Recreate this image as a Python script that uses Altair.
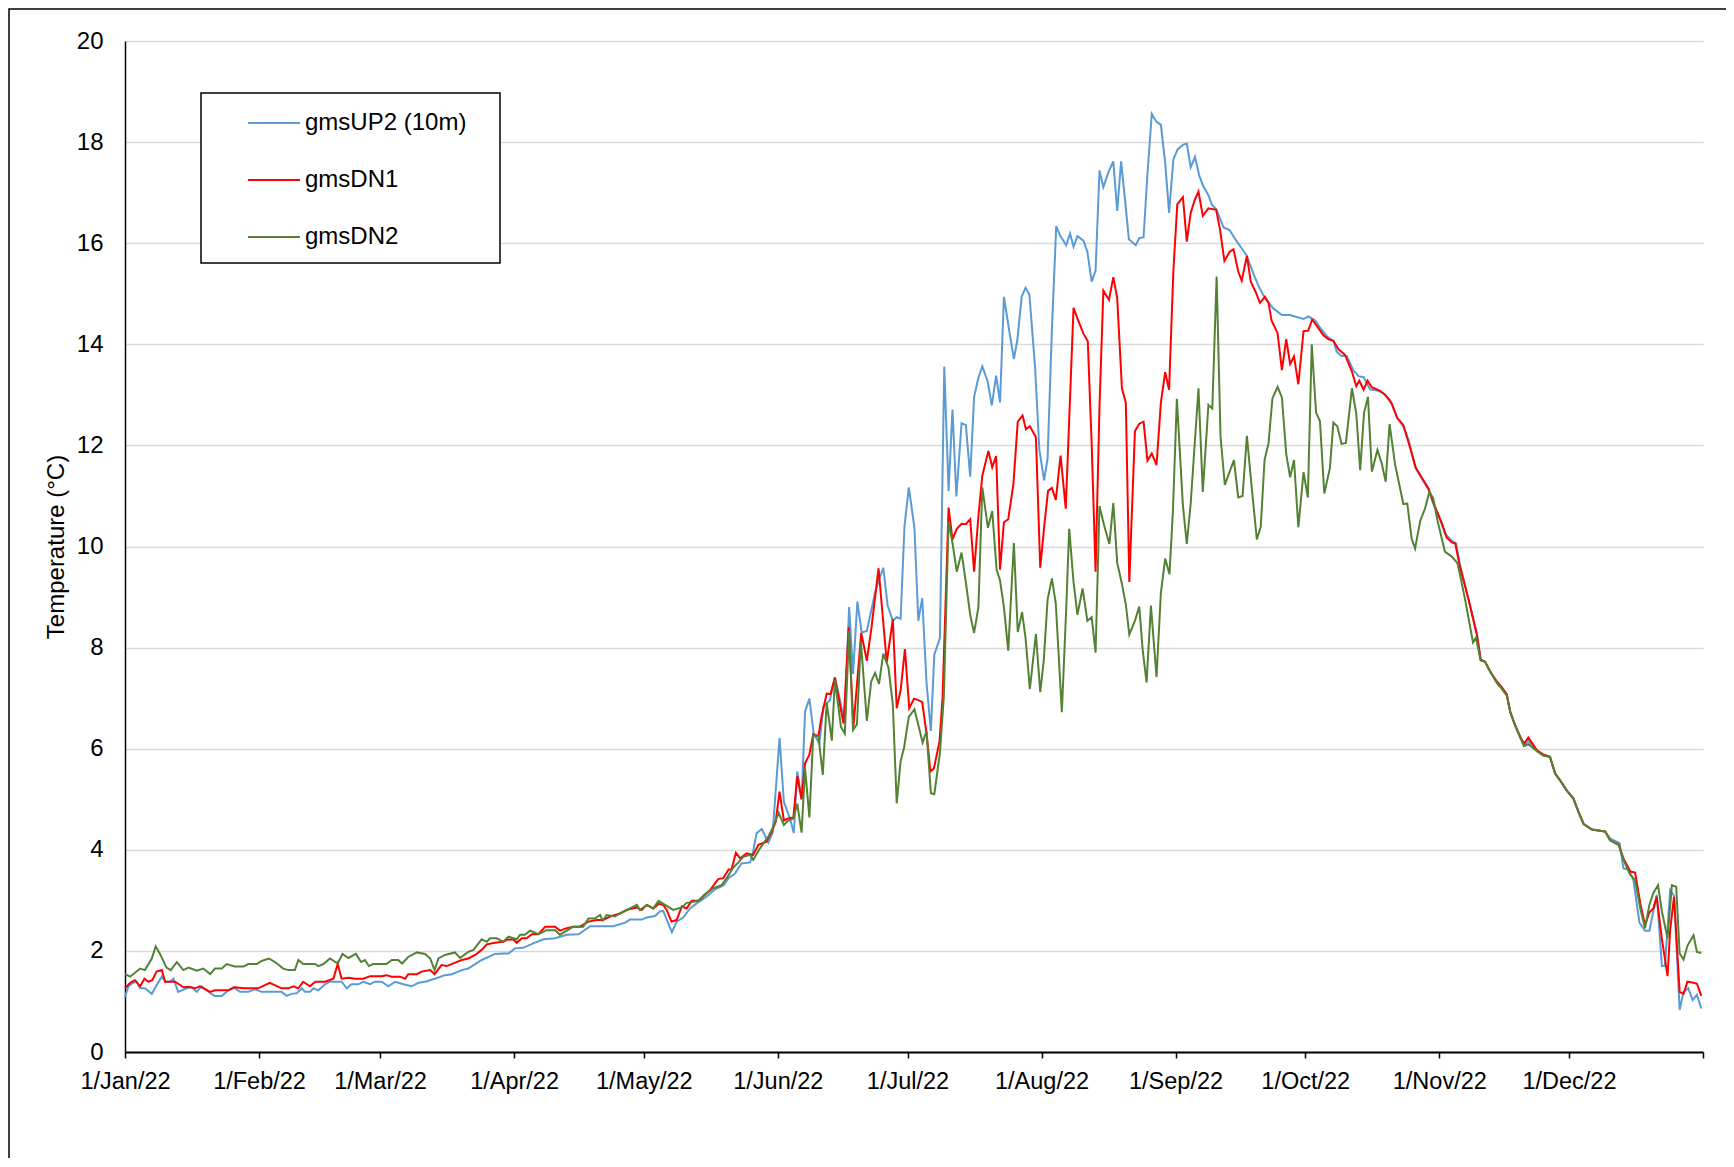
import altair as alt
import pandas as pd

# ---- data (day offset from 1 Jan 2022, temperature in degC) ----
SERIES = ["gmsUP2 (10m)", "gmsDN1", "gmsDN2"]
COLORS = ["#5B9BD5", "#FF0000", "#548235"]

up2_points = [
    (0, 1.09), (0.8, 1.30), (1.9, 1.37), (2.7, 1.39), (3.5, 1.26), (4.6, 1.26), (6.2, 1.15), (7.3, 1.32),
    (8.5, 1.49), (9.3, 1.39), (10.4, 1.39), (11.2, 1.45), (12.3, 1.19), (14.3, 1.26), (15.4, 1.28), (16.6, 1.19),
    (17.7, 1.30), (20, 1.15), (20.8, 1.11), (22.4, 1.11), (23.9, 1.22), (25.1, 1.28), (26.6, 1.19), (28.5, 1.19),
    (30.1, 1.24), (31.6, 1.19), (33.9, 1.19), (36.2, 1.19), (37.4, 1.11), (38.5, 1.15), (39.7, 1.16), (40.9, 1.26),
    (41.6, 1.19), (42.8, 1.19), (43.6, 1.26), (44.7, 1.22), (46.3, 1.34), (47.4, 1.39), (50.1, 1.39), (51.3, 1.26),
    (52.4, 1.34), (54, 1.34), (55.1, 1.39), (56.7, 1.34), (57.8, 1.39), (59.4, 1.39), (60.9, 1.30), (62.5, 1.39),
    (64.4, 1.34), (66.3, 1.30), (67.9, 1.37), (69.4, 1.39), (71.7, 1.45), (74, 1.52), (75.6, 1.54), (77.9, 1.62),
    (79.4, 1.65), (81, 1.74), (82.5, 1.82), (85.6, 1.94), (87.5, 1.95), (88.7, 1.95), (90.2, 2.05), (92.1, 2.06),
    (94.4, 2.15), (96.8, 2.23), (99.5, 2.25), (102.2, 2.32), (104.9, 2.33), (107.6, 2.49), (113, 2.49), (115.7, 2.56),
    (116.8, 2.62), (119.5, 2.62), (120.7, 2.66), (122.6, 2.69), (123.7, 2.78), (124.5, 2.79), (125.5, 2.58),
    (126.5, 2.37), (127.6, 2.58), (129.1, 2.66), (130.7, 2.84), (132.2, 2.94), (134.5, 3.07), (136.5, 3.22),
    (138.5, 3.30), (139.6, 3.44), (141.1, 3.53), (142.6, 3.73), (144.6, 3.75), (145.2, 3.93), (146.1, 4.33),
    (147.3, 4.41), (148.8, 4.14), (149.8, 4.33), (151.4, 6.21), (152.4, 4.95), (153.8, 4.62), (154.7, 4.33),
    (155.5, 5.55), (156.5, 5.00), (157.3, 6.73), (158.3, 6.99), (159.3, 6.30), (160.6, 6.10), (161.6, 6.85),
    (163.0, 6.95), (164.2, 7.41), (165.4, 6.96), (166.4, 6.50), (167.5, 8.80), (168.4, 7.48), (169.4, 8.91),
    (170.4, 8.30), (171.6, 8.33), (173.5, 9.09), (174.3, 9.32), (175.4, 9.58), (176.4, 8.83), (177.6, 8.53),
    (178.5, 8.60), (179.4, 8.57), (180.3, 10.40), (181.3, 11.17), (182.6, 10.37), (183.5, 8.53), (184.4, 8.98),
    (185.4, 7.30), (186.4, 6.35), (187.2, 7.86), (188.5, 8.19), (189.5, 13.56), (190.5, 11.10), (191.4, 12.71),
    (192.3, 10.99), (193.5, 12.44), (194.5, 12.40), (195.5, 11.38), (196.4, 12.96), (197.4, 13.34), (198.3, 13.56),
    (199.5, 13.28), (200.5, 12.79), (201.5, 13.38), (202.4, 12.85), (203.3, 14.94), (204.5, 14.28), (205.6, 13.71),
    (206.4, 14.08), (207.4, 14.94), (208.3, 15.12), (209.2, 14.98), (210.5, 13.55), (211.5, 11.91), (212.6, 11.31),
    (213.4, 11.75), (214.4, 14.30), (215.4, 16.34), (216.3, 16.15), (217.7, 15.96), (218.6, 16.19), (219.4, 15.93),
    (220.3, 16.14), (221.7, 16.05), (222.6, 15.83), (223.6, 15.24), (224.5, 15.46), (225.4, 17.44), (226.3, 17.11),
    (227.5, 17.41), (228.6, 17.62), (229.5, 16.64), (230.4, 17.62), (231.3, 16.87), (232.2, 16.08), (233.8, 15.96),
    (234.6, 16.10), (235.6, 16.12), (236.5, 17.37), (237.5, 18.56), (238.5, 18.41), (239.6, 18.34), (240.6, 17.59),
    (241.5, 16.60), (242.5, 17.66), (243.5, 17.86), (244.8, 17.95), (245.6, 17.97), (246.5, 17.50), (247.5, 17.71),
    (248.5, 17.33), (249.4, 17.13), (250.6, 16.95), (251.4, 16.76), (252.5, 16.66), (254.1, 16.31), (255.5, 16.26),
    (256.8, 16.08), (258.3, 15.90), (259.5, 15.75), (261, 15.40), (262.2, 15.15), (263.7, 14.91), (265.6, 14.71),
    (267.6, 14.58), (269.5, 14.58), (270.6, 14.55), (272.6, 14.50), (273.7, 14.55), (275.3, 14.47), (276.4, 14.33),
    (278, 14.16), (279.5, 14.07), (280.3, 13.85), (281.4, 13.77), (282.6, 13.77), (284.1, 13.49), (285.3, 13.37),
    (286.5, 13.35), (288, 13.11), (289.9, 13.08), (291.1, 13.03), (292.6, 12.90), (294.2, 12.55), (295.7, 12.37),
    (296.9, 12.11), (298.4, 11.58), (299.9, 11.35), (301.5, 11.13), (302.6, 10.85), (304.2, 10.53), (305.3, 10.26),
    (306.9, 10.11), (307.9, 10.06), (308.7, 9.67), (310.8, 8.94), (312.7, 8.28), (313.6, 7.75), (314.6, 7.72),
    (315.8, 7.52), (317.3, 7.33), (318.5, 7.21), (319.6, 7.08), (320.4, 6.73), (321.5, 6.47), (322.7, 6.24),
    (323.6, 6.07), (324.6, 6.15), (326.6, 5.97), (328.1, 5.88), (329.6, 5.84), (330.8, 5.51), (331.9, 5.38),
    (333.5, 5.17), (335, 5.02), (336.2, 4.75), (337.4, 4.51), (339.3, 4.40), (340.8, 4.38), (342.4, 4.36),
    (343.5, 4.22), (344.3, 4.19), (345.7, 4.13), (346.6, 3.63), (347.8, 3.61), (348.9, 3.40), (350.3, 2.56),
    (351.6, 2.40), (352.6, 2.40), (353.5, 2.78), (354.3, 3.11), (355.5, 1.70), (356.2, 1.70), (357.4, 3.20),
    (358.3, 3.09), (359.6, 0.83), (360.5, 1.19), (361.6, 1.26), (362.6, 1.03), (363.6, 1.13), (364.6, 0.86),
]

dn1_points = [
    (0, 1.26), (1.2, 1.37), (2.3, 1.42), (3.5, 1.30), (4.5, 1.45), (5.4, 1.39), (6.3, 1.42), (7.3, 1.59),
    (8.5, 1.62), (9.3, 1.39), (11.6, 1.39), (13.5, 1.28), (14.7, 1.29), (16.2, 1.26), (17.3, 1.30), (19.7, 1.19),
    (20.8, 1.22), (23.9, 1.22), (25.4, 1.28), (27.4, 1.26), (30.8, 1.26), (33.5, 1.37), (36.2, 1.26), (37.8, 1.26),
    (39, 1.30), (40.1, 1.26), (41.2, 1.39), (42.8, 1.30), (44, 1.39), (46.3, 1.39), (48.2, 1.45), (49.2, 1.74),
    (50.1, 1.45), (51.7, 1.47), (53.2, 1.45), (55.1, 1.45), (56.7, 1.50), (59.4, 1.50), (60.5, 1.52), (61.7, 1.49),
    (63.6, 1.49), (64.8, 1.45), (65.5, 1.54), (67.5, 1.54), (68.6, 1.59), (70.6, 1.62), (71.6, 1.54), (73.2, 1.72),
    (74.4, 1.70), (77.9, 1.82), (79.4, 1.85), (81, 1.92), (82.5, 2.02), (83.7, 2.13), (85.6, 2.16), (87.5, 2.18),
    (88.3, 2.22), (89.8, 2.23), (90.6, 2.16), (91.8, 2.25), (92.9, 2.25), (94.1, 2.33), (95.6, 2.33), (97.2, 2.48),
    (99.5, 2.48), (100.6, 2.40), (102.2, 2.45), (103.7, 2.48), (105.2, 2.48), (107.2, 2.58), (109.1, 2.61),
    (110.6, 2.61), (112.2, 2.68), (114.5, 2.74), (116.4, 2.82), (118.4, 2.86), (119.5, 2.81), (120.7, 2.91),
    (122.2, 2.84), (123.4, 2.93), (124.5, 2.91), (125.3, 2.81), (126.4, 2.58), (127.6, 2.61), (128.8, 2.88),
    (129.9, 2.84), (131.1, 2.99), (132.6, 2.99), (133.8, 3.09), (135.3, 3.20), (137.2, 3.42), (138.4, 3.44),
    (139.6, 3.61), (140.3, 3.61), (141.3, 3.94), (142.3, 3.83), (143.8, 3.93), (145.3, 3.90), (146.5, 4.10),
    (148.4, 4.16), (149.6, 4.36), (150.5, 4.55), (151.4, 5.15), (152.4, 4.58), (153.4, 4.62), (154.6, 4.64),
    (155.5, 5.46), (156.5, 5.00), (157.3, 5.71), (158.3, 5.88), (159.2, 6.29), (160.4, 6.25), (161.1, 6.63),
    (162.3, 7.09), (163.2, 7.08), (164.2, 7.41), (165.3, 6.90), (166.2, 6.50), (167.4, 8.40), (168.5, 6.44),
    (170.3, 8.29), (171.6, 7.74), (172.7, 8.42), (174.3, 9.57), (176.2, 7.71), (177.6, 8.56), (178.5, 6.80),
    (179.4, 7.15), (180.4, 7.97), (181.4, 6.80), (182.5, 6.99), (183.5, 6.96), (184.4, 6.92), (185.4, 6.30),
    (186.3, 5.55), (187.1, 5.61), (188.4, 6.14), (189.1, 7.00), (190.5, 10.77), (191.4, 10.14), (192.4, 10.35),
    (193.5, 10.45), (194.5, 10.44), (195.5, 10.54), (196.4, 9.50), (197.4, 10.60), (198.3, 11.40), (199.7, 11.89),
    (200.6, 11.57), (201.5, 11.79), (202.4, 9.54), (203.3, 10.48), (204.3, 10.54), (205.5, 11.24), (206.5, 12.47),
    (207.6, 12.59), (208.4, 12.32), (209.3, 12.38), (210.7, 12.16), (211.7, 9.58), (212.6, 10.38), (213.5, 11.10),
    (214.4, 11.16), (215.3, 10.92), (216.4, 11.80), (217.6, 10.75), (219.4, 14.72), (220.5, 14.47), (221.7, 14.21),
    (222.7, 14.06), (223.6, 12.02), (224.5, 9.50), (225.4, 12.75), (226.3, 15.06), (227.6, 14.88), (228.6, 15.33),
    (229.5, 14.92), (230.6, 13.13), (231.5, 12.84), (232.3, 9.30), (233.6, 12.28), (234.6, 12.43), (235.6, 12.47),
    (236.5, 11.70), (237.5, 11.84), (238.6, 11.61), (239.6, 12.84), (240.6, 13.45), (241.5, 13.10), (242.5, 15.46),
    (243.4, 16.77), (244.7, 16.91), (245.6, 16.03), (246.5, 16.60), (247.5, 16.87), (248.3, 17.02), (249.3, 16.54),
    (250.6, 16.69), (252.4, 16.66), (253.3, 16.26), (254.3, 15.65), (255.5, 15.83), (256.4, 15.88), (257.5, 15.44),
    (258.3, 15.26), (259.5, 15.75), (260.4, 15.24), (261.6, 15.02), (262.5, 14.82), (263.7, 14.94), (264.5, 14.82),
    (265.2, 14.47), (266.6, 14.22), (267.6, 13.49), (268.6, 14.10), (269.5, 13.61), (270.4, 13.76), (271.4, 13.21),
    (272.6, 14.26), (273.7, 14.27), (274.6, 14.49), (275.7, 14.36), (277.2, 14.18), (278.4, 14.10), (279.5, 14.07),
    (280.7, 13.90), (282.2, 13.79), (283.8, 13.46), (284.8, 13.17), (285.5, 13.28), (286.5, 13.10), (287.4, 13.28),
    (288.4, 13.15), (290.3, 13.08), (291.5, 13.00), (293, 12.83), (294.3, 12.54), (295.7, 12.40), (297.2, 11.97),
    (298.6, 11.55), (299.9, 11.37), (301.5, 11.15), (303, 10.79), (304.6, 10.46), (305.7, 10.18), (306.9, 10.08),
    (307.7, 10.06), (308.7, 9.63), (310.8, 8.94), (312.7, 8.25), (313.6, 7.75), (314.6, 7.72), (315.8, 7.52),
    (317.3, 7.33), (318.5, 7.21), (319.6, 7.08), (320.4, 6.73), (321.5, 6.47), (322.7, 6.24), (323.6, 6.10),
    (324.6, 6.22), (326.6, 5.97), (328.1, 5.88), (329.6, 5.84), (330.8, 5.51), (331.9, 5.38), (333.5, 5.17),
    (335, 5.02), (336.2, 4.75), (337.4, 4.51), (339.3, 4.40), (340.8, 4.38), (342.4, 4.36), (343.5, 4.19),
    (345.5, 4.10), (346.6, 3.83), (348.2, 3.57), (349.3, 3.55), (350.5, 2.94), (351.6, 2.51), (352.6, 2.76),
    (353.5, 2.84), (354.3, 3.07), (355.5, 2.23), (356.8, 1.50), (357.4, 2.41), (358.3, 3.07), (359.6, 1.19),
    (360.5, 1.15), (361.4, 1.39), (362.8, 1.37), (363.6, 1.35), (364.6, 1.11),
]

dn2_points = [
    (0, 1.54), (1.2, 1.49), (3.5, 1.65), (4.6, 1.62), (6.2, 1.85), (7.1, 2.09), (8.1, 1.94), (9.6, 1.67),
    (10.6, 1.62), (12, 1.78), (13.5, 1.62), (14.7, 1.67), (16.6, 1.61), (18.1, 1.65), (19.7, 1.54), (20.8, 1.65),
    (22.4, 1.65), (23.5, 1.74), (25.4, 1.69), (27.4, 1.69), (28.5, 1.74), (30.5, 1.74), (31.6, 1.80), (33.3, 1.85),
    (34.7, 1.78), (36.6, 1.65), (37.8, 1.62), (39.3, 1.62), (40.1, 1.82), (41.2, 1.74), (44, 1.74), (44.7, 1.70),
    (45.9, 1.74), (47.4, 1.85), (49.2, 1.75), (50.3, 1.94), (51.7, 1.86), (53.4, 1.94), (54.6, 1.78), (55.5, 1.82),
    (56.4, 1.70), (57.4, 1.74), (60.5, 1.74), (61.7, 1.82), (63.2, 1.82), (64.1, 1.75), (65.5, 1.88), (67.5, 1.97),
    (69.4, 1.94), (70.6, 1.85), (71.6, 1.62), (72.5, 1.85), (74, 1.92), (76.3, 1.97), (77.5, 1.86), (79.4, 1.98),
    (80.6, 2.02), (82.5, 2.23), (83.7, 2.18), (84.4, 2.25), (86, 2.25), (87.5, 2.18), (88.7, 2.28), (90.6, 2.23),
    (91.4, 2.32), (92.5, 2.32), (93.7, 2.40), (95.6, 2.33), (97.5, 2.41), (99.5, 2.41), (100.6, 2.32), (102.2, 2.40),
    (103.7, 2.48), (106, 2.48), (107.2, 2.64), (108.7, 2.64), (109.9, 2.71), (110.5, 2.60), (111.4, 2.71),
    (113.3, 2.68), (114.9, 2.76), (116.8, 2.84), (118.4, 2.91), (119.1, 2.81), (120.7, 2.91), (122.2, 2.84),
    (123.4, 2.99), (125.3, 2.89), (126.8, 2.81), (128.8, 2.86), (129.9, 2.95), (131.5, 2.97), (133, 3.01),
    (134.5, 3.14), (136.1, 3.24), (138, 3.30), (139.2, 3.44), (140.7, 3.65), (141.9, 3.75), (143, 3.86),
    (144.6, 3.90), (145.3, 3.80), (146.9, 4.03), (148.8, 4.26), (149.8, 4.43), (151.2, 4.73), (152.4, 4.49),
    (153.4, 4.58), (154.6, 4.62), (155.5, 4.91), (156.5, 4.34), (157.3, 5.61), (158.3, 4.64), (159.2, 6.27),
    (160.4, 6.24), (161.4, 5.48), (162.3, 6.91), (163.5, 6.16), (164.2, 7.36), (165.6, 6.43), (166.5, 6.30),
    (167.5, 8.33), (168.4, 6.37), (169.3, 6.48), (170.2, 8.13), (171.6, 6.55), (172.6, 7.33), (173.5, 7.50),
    (174.4, 7.28), (175.4, 7.88), (176.6, 7.60), (177.6, 6.88), (178.5, 4.92), (179.4, 5.75), (180.2, 6.02),
    (181.3, 6.63), (182.6, 6.78), (183.7, 6.40), (184.5, 6.12), (185.4, 6.35), (186.4, 5.12), (187.2, 5.10),
    (188.5, 5.92), (189.4, 7.03), (190.5, 10.50), (191.4, 10.07), (192.4, 9.50), (193.5, 9.88), (194.5, 9.29),
    (195.5, 8.65), (196.4, 8.29), (197.4, 8.80), (198.3, 11.17), (199.6, 10.37), (200.6, 10.70), (201.6, 9.55),
    (202.4, 9.33), (203.3, 8.80), (204.3, 7.94), (205.6, 10.07), (206.5, 8.31), (207.5, 8.70), (208.3, 8.19),
    (209.3, 7.18), (210.7, 8.27), (211.7, 7.12), (212.5, 7.73), (213.4, 8.95), (214.4, 9.37), (215.3, 8.87),
    (216.7, 6.72), (217.7, 8.76), (218.4, 10.35), (219.4, 9.30), (220.3, 8.65), (221.5, 9.17), (222.6, 8.53),
    (223.6, 8.60), (224.5, 7.90), (225.4, 10.80), (226.5, 10.41), (227.7, 10.05), (228.6, 10.86), (229.5, 9.68),
    (230.6, 9.26), (231.5, 8.85), (232.3, 8.26), (233.6, 8.53), (234.6, 8.81), (235.4, 7.95), (236.3, 7.31),
    (237.3, 8.83), (238.6, 7.42), (239.6, 9.08), (240.6, 9.76), (241.6, 9.45), (242.4, 10.72), (243.3, 12.92),
    (244.7, 10.81), (245.6, 10.05), (246.5, 10.85), (248.3, 13.13), (249.3, 11.08), (250.6, 12.80), (251.5, 12.73),
    (252.5, 15.34), (253.4, 12.17), (254.4, 11.22), (256.5, 11.71), (257.5, 10.97), (258.5, 11.00), (259.5, 12.19),
    (260.6, 11.18), (261.8, 10.14), (262.7, 10.39), (263.6, 11.72), (264.5, 12.04), (265.4, 12.93), (266.6, 13.16),
    (267.6, 12.95), (268.6, 11.83), (269.5, 11.37), (270.4, 11.71), (271.4, 10.38), (272.6, 11.47), (273.6, 10.97),
    (274.5, 14.00), (275.5, 12.65), (276.4, 12.48), (277.4, 11.05), (278.7, 11.55), (279.5, 12.45), (280.4, 12.38),
    (281.4, 12.03), (282.4, 12.05), (283.8, 13.13), (284.8, 12.63), (285.7, 11.51), (286.6, 12.65), (287.5, 12.96),
    (288.4, 11.48), (289.7, 11.91), (290.7, 11.64), (291.6, 11.28), (292.5, 12.42), (293.8, 11.61), (295.7, 10.84),
    (296.6, 10.85), (297.6, 10.16), (298.4, 9.96), (299.6, 10.51), (300.7, 10.75), (301.7, 11.08), (302.6, 10.95),
    (303.6, 10.51), (305.3, 9.90), (306.9, 9.80), (308.2, 9.67), (308.8, 9.44), (310, 8.94), (311.8, 8.10),
    (312.5, 8.20), (313.5, 7.77), (314.6, 7.72), (315.8, 7.52), (317.3, 7.30), (318.5, 7.18), (319.6, 7.05),
    (320.4, 6.73), (321.5, 6.47), (322.7, 6.22), (323.6, 6.05), (324.6, 6.09), (326.6, 5.95), (328.1, 5.86),
    (329.6, 5.84), (330.8, 5.51), (331.9, 5.38), (333.5, 5.17), (335, 5.02), (336.2, 4.75), (337.4, 4.51),
    (339.3, 4.40), (340.8, 4.38), (342.4, 4.36), (343.5, 4.19), (345.5, 4.10), (346.6, 3.80), (348, 3.53),
    (349.3, 3.40), (350.5, 2.84), (351.6, 2.45), (352.6, 2.91), (353.5, 3.14), (354.6, 3.30), (355.5, 2.78),
    (356.8, 2.25), (357.8, 3.30), (358.8, 3.27), (359.6, 1.95), (360.5, 1.83), (361.4, 2.10), (362.8, 2.31),
    (363.6, 1.98), (364.6, 1.96),
]

Y_TICKS = list(range(0, 21, 2))
START = pd.Timestamp("2022-01-01")

frames = []
for name, pts in zip(SERIES, [up2_points, dn1_points, dn2_points]):
    d = pd.DataFrame(pts, columns=["day", "temp"])
    d["date"] = START + pd.to_timedelta(d["day"], unit="D")
    d["series"] = name
    frames.append(d[["date", "temp", "series"]])
df = pd.concat(frames, ignore_index=True)

FONT = "Liberation Sans"

x_enc = alt.X(
    "date:T",
    title=None,
    scale=alt.Scale(
        domain=[alt.DateTime(year=2022, month=1, date=1), alt.DateTime(year=2023, month=1, date=1)],
        nice=False,
    ),
    axis=alt.Axis(
        values=[alt.DateTime(year=2022 + m // 12, month=m % 12 + 1, date=1) for m in range(13)],
        labelExpr="year(datum.value) > 2022 ? '' : timeFormat(datum.value, '%-d/%b/%y')",
        grid=False,
        ticks=True,
        tickSize=6,
        tickWidth=1.5,
        tickColor="black",
        domainColor="black",
        domainWidth=2,
        labelPadding=11,
        labelFlush=False,
        labelOverlap=False,
        labelFontSize=23.5,
    ),
)

y_enc = alt.Y(
    "temp:Q",
    scale=alt.Scale(domain=[0, 20], nice=False),
    axis=alt.Axis(
        values=Y_TICKS,
        title="Temperature (°C)",
        format="d",
        grid=True,
        gridColor="#D9D9D9",
        gridWidth=1.3,
        ticks=False,
        tickSize=0,
        domainColor="black",
        domainWidth=1.5,
        labelPadding=22,
        labelFontSize=24,
        titlePadding=8,
    ),
)

color_enc = alt.Color(
    "series:N",
    title=None,
    scale=alt.Scale(domain=SERIES, range=COLORS),
    legend=alt.Legend(
        orient="none",
        legendX=122,
        legendY=55,
        symbolType="stroke",
        symbolSize=2704,
        symbolStrokeWidth=2,
        symbolOffset=0,
        labelOffset=4,
        labelLimit=400,
        rowPadding=18,
        padding=0,
    ),
)

base = alt.Chart(df).mark_line(strokeWidth=2).encode(x=x_enc, y=y_enc, color=color_enc)
lines = [base.transform_filter(alt.datum.series == s) for s in SERIES]

one_row = pd.DataFrame({"a": [0]})

# outer chart-area frame (decoration)
frame = alt.Chart(one_row).mark_rect(
    fill="white", fillOpacity=0, stroke="black", strokeWidth=1.5
).encode(x=alt.value(-116), x2=alt.value(1700), y=alt.value(-32), y2=alt.value(1300))

# legend box (decoration, white fill hides gridlines as in the reference)
legend_box = alt.Chart(one_row).mark_rect(
    fill="white", stroke="black", strokeWidth=1.5
).encode(x=alt.value(76), x2=alt.value(375), y=alt.value(52), y2=alt.value(222))

chart = (
    alt.layer(frame, legend_box, *lines)
    .properties(
        width=1578,
        height=1011,
        padding={"left": 117, "top": 33, "right": 23, "bottom": 106},
        autosize=alt.AutoSizeParams(type="none"),
    )
    .configure_view(strokeWidth=0)
    .configure_axis(
        labelFont=FONT,
        labelColor="black",
        titleFont=FONT,
        titleFontSize=24,
        titleFontWeight="normal",
        titleColor="black",
    )
    .configure_legend(
        labelFont=FONT,
        labelFontSize=24,
        labelColor="black",
    )
)

chart.save("out.html", embed_options={"renderer": "svg", "actions": False})
